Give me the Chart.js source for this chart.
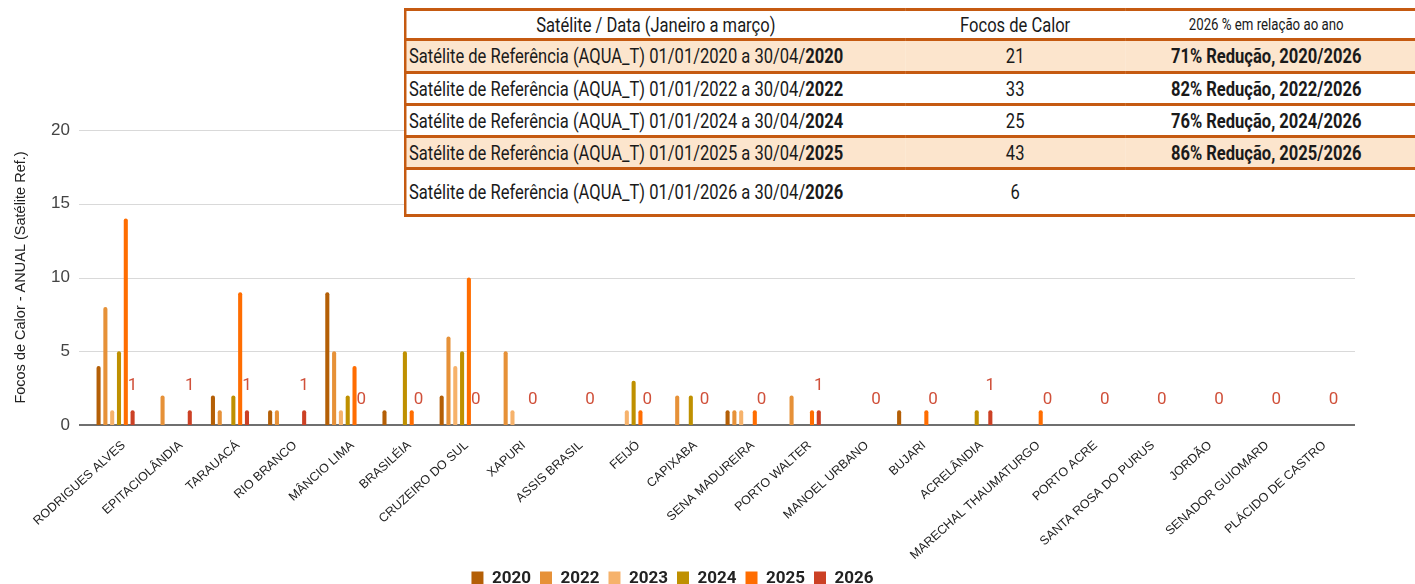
<!DOCTYPE html>
<html>
<head>
<meta charset="utf-8">
<script src="https://cdn.jsdelivr.net/npm/chart.js@4/dist/chart.umd.min.js"></script>
<style>
  html, body { margin: 0; padding: 0; background: #fff; }
  #wrap { position: relative; width: 1415px; height: 584px; overflow: hidden; font-family: Roboto, sans-serif; }
  #wrap canvas { position: absolute; left: 0; top: 0; }
  /* text in the reference is condensed: squeeze the table horizontally */
  #tbl { position: absolute; left: 404px; top: 8px; width: 1230px; border-collapse: collapse; font-size: 20px; color: #1a1a1a; background: #fff;
         border-left: 3px solid #c55a11; transform: scaleX(0.827); transform-origin: 0 0; }
  #tbl td { border-top: 3px solid #c55a11; border-bottom: 3px solid #c55a11; padding: 0 3px; height: 29px; white-space: nowrap; line-height: 24px; }
  #tbl tr.hl td { background: #fce5cd; }
  #tbl td.c1 { width: 597px; }
  #tbl td.c2 { width: 260px; text-align: center; }
  #tbl td.c3 { text-align: center; padding-right: 20px; }
  #tbl tr.head td { height: 27px; }
  #tbl tr.r1 td { height: 30px; }
  #tbl tr.last td { height: 44px; }
  #tbl .small { font-size: 16px; }
</style>
</head>
<body>
<div id="wrap">
  <canvas id="chart" width="1415" height="584"></canvas>
  <table id="tbl">
    <tr class="head"><td class="c1" style="text-align:center">Satélite / Data (Janeiro a março)</td><td class="c2">Focos de Calor</td><td class="c3 small">2026 % em relação ao ano</td></tr>
    <tr class="hl r1"><td class="c1">Satélite de Referência (AQUA_T) 01/01/2020 a 30/04/<b>2020</b></td><td class="c2">21</td><td class="c3"><b>71% Redução, 2020/2026</b></td></tr>
    <tr><td class="c1">Satélite de Referência (AQUA_T) 01/01/2022 a 30/04/<b>2022</b></td><td class="c2">33</td><td class="c3"><b>82% Redução, 2022/2026</b></td></tr>
    <tr><td class="c1">Satélite de Referência (AQUA_T) 01/01/2024 a 30/04/<b>2024</b></td><td class="c2">25</td><td class="c3"><b>76% Redução, 2024/2026</b></td></tr>
    <tr class="hl"><td class="c1">Satélite de Referência (AQUA_T) 01/01/2025 a 30/04/<b>2025</b></td><td class="c2">43</td><td class="c3"><b>86% Redução, 2025/2026</b></td></tr>
    <tr class="last"><td class="c1">Satélite de Referência (AQUA_T) 01/01/2026 a 30/04/<b>2026</b></td><td class="c2">6</td><td class="c3"></td></tr>
  </table>
</div>
<script>
// municipalities (x axis)
const municipios = [
  'RODRIGUES ALVES', 'EPITACIOLÂNDIA', 'TARAUACÁ', 'RIO BRANCO', 'MÂNCIO LIMA',
  'BRASILÉIA', 'CRUZEIRO DO SUL', 'XAPURI', 'ASSIS BRASIL', 'FEIJÓ', 'CAPIXABA',
  'SENA MADUREIRA', 'PORTO WALTER', 'MANOEL URBANO', 'BUJARI', 'ACRELÂNDIA',
  'MARECHAL THAUMATURGO', 'PORTO ACRE', 'SANTA ROSA DO PURUS', 'JORDÃO',
  'SENADOR GUIOMARD', 'PLÁCIDO DE CASTRO'
];

// hot spots per year
const focos2020 = [4, 0, 2, 1, 9, 1, 2, 0, 0, 0, 0, 1, 0, 0, 1, 0, 0, 0, 0, 0, 0, 0];
const focos2022 = [8, 2, 1, 1, 5, 0, 6, 5, 0, 0, 2, 1, 2, 0, 0, 0, 0, 0, 0, 0, 0, 0];
const focos2023 = [1, 0, 0, 0, 1, 0, 4, 1, 0, 1, 0, 1, 0, 0, 0, 0, 0, 0, 0, 0, 0, 0];
const focos2024 = [5, 0, 2, 0, 2, 5, 5, 0, 0, 3, 2, 0, 0, 0, 0, 1, 0, 0, 0, 0, 0, 0];
const focos2025 = [14, 0, 9, 0, 4, 1, 10, 0, 0, 1, 0, 1, 1, 0, 1, 0, 1, 0, 0, 0, 0, 0];
const focos2026 = [1, 1, 1, 1, 0, 0, 0, 0, 0, 0, 0, 0, 1, 0, 0, 1, 0, 0, 0, 0, 0, 0];

const anos = ['2020', '2022', '2023', '2024', '2025', '2026'];
const cores = ['#b45f06', '#e69138', '#f6b26b', '#bf9000', '#ff6d01', '#cc4125'];
const series = [focos2020, focos2022, focos2023, focos2024, focos2025, focos2026];

const yTicks = [0, 5, 10, 15, 20];

// gridlines a bit wider than the plot, like the original
const grade = {
  id: 'grade',
  beforeDatasetsDraw(chart) {
    const ctx = chart.ctx;
    const area = chart.chartArea;
    const y = chart.scales.y;
    ctx.save();
    yTicks.forEach(v => {
      const py = Math.round(y.getPixelForValue(v)) + (v === 0 ? 0 : 0.5);
      ctx.beginPath();
      ctx.strokeStyle = v === 0 ? '#6f6f6f' : '#d9d9d9';
      ctx.lineWidth = v === 0 ? 2 : 1;
      ctx.moveTo(area.left - 8, py);
      ctx.lineTo(area.right + 10, py);
      ctx.stroke();
    });
    ctx.restore();
  }
};

// value labels on the 2026 series only
const rotulos2026 = {
  id: 'rotulos2026',
  afterDatasetsDraw(chart) {
    const ctx = chart.ctx;
    const meta = chart.getDatasetMeta(5);
    ctx.save();
    ctx.font = '17px Roboto';
    ctx.fillStyle = '#d0503a';
    ctx.textAlign = 'center';
    ctx.textBaseline = 'middle';
    meta.data.forEach((bar, i) => {
      ctx.fillText(String(focos2026[i]), bar.x, bar.y - 25);
    });
    ctx.restore();
  }
};

const canvas = document.getElementById('chart');
canvas.chart = new Chart(canvas, {
  type: 'bar',
  data: {
    labels: municipios,
    datasets: anos.map((ano, i) => ({
      label: ano,
      data: series[i],
      backgroundColor: cores[i],
      borderRadius: 2,
      categoryPercentage: 0.714,
      barPercentage: 0.6
    }))
  },
  options: {
    responsive: false,
    animation: false,
    layout: { padding: { left: 0, right: 70, top: 130, bottom: -13 } },
    plugins: {
      tooltip: { enabled: false },
      legend: {
        position: 'bottom',
        labels: {
          boxWidth: 12,
          boxHeight: 14,
          padding: 9,
          color: '#222',
          font: { family: 'Roboto', size: 17, weight: 'bold' }
        }
      }
    },
    scales: {
      x: {
        grid: { display: false },
        border: { display: false },
        ticks: {
          color: '#222',
          font: { family: '"Liberation Sans", Arial', size: 12.5 },
          minRotation: 42,
          maxRotation: 42,
          autoSkip: false,
          labelOffset: 8,
          padding: 5
        },
        afterFit(scale) { scale.height = 136; }
      },
      y: {
        min: 0,
        max: 20,
        afterBuildTicks(scale) { scale.ticks = yTicks.map(v => ({ value: v })); },
        grid: { display: false },
        border: { display: false },
        ticks: {
          color: '#444',
          font: { family: '"Liberation Sans", Arial', size: 17 },
          padding: 9
        },
        title: {
          display: true,
          text: 'Focos de Calor - ANUAL (Satélite Ref.)',
          color: '#222',
          font: { family: '"Liberation Sans", Arial', size: 14.5 },
          padding: { top: 12, bottom: 0 }
        },
        afterFit(scale) { scale.width = 87; }
      }
    }
  },
  plugins: [grade, rotulos2026]
});
</script>
</body>
</html>
